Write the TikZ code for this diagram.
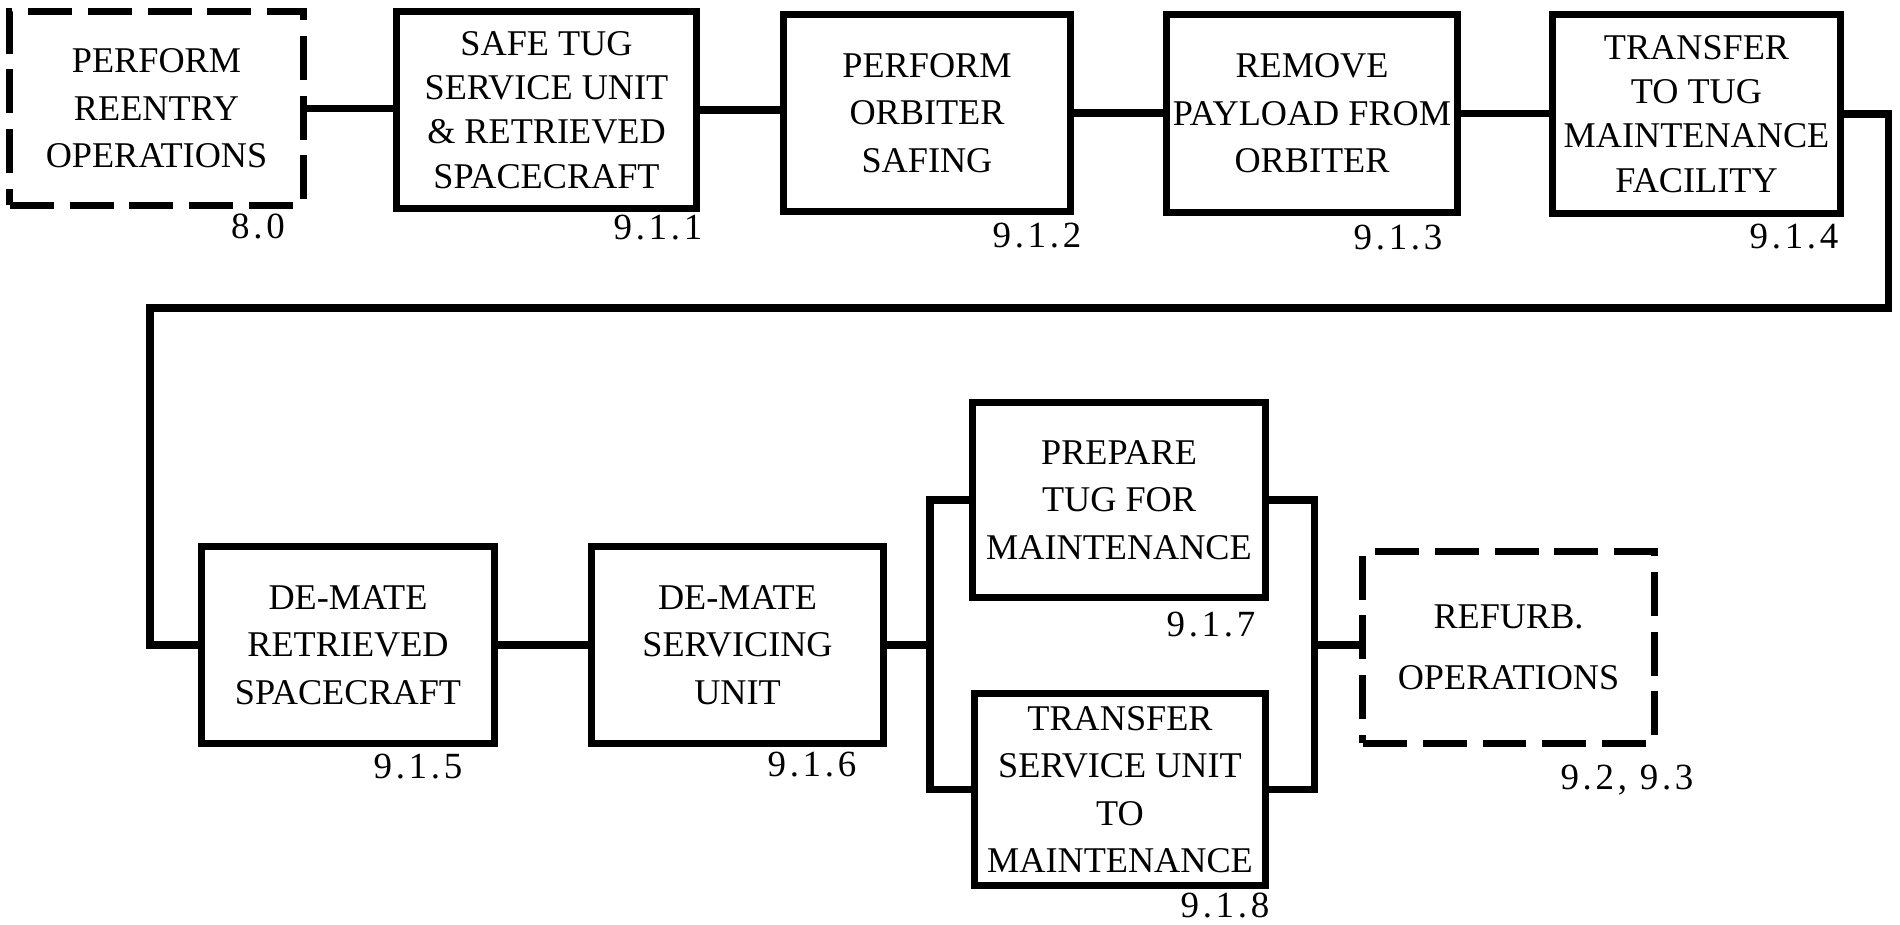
\documentclass[tikz,border=0pt]{standalone}
\usepackage{fontspec}
\setmainfont{Liberation Serif}
\newfontfamily\numfont[LetterSpace=10]{Liberation Serif}

\begin{document}
\begin{tikzpicture}[
  x=0.01cm, y=-0.01cm,
  every node/.style={font=\fontsize{10.3}{13.5}\selectfont},
  task/.style={rectangle, draw=black, line width=2pt, fill=white,
               align=center, inner sep=0pt},
  ext/.style={task, dash pattern=on 12.5pt off 4.5pt},
  size/.style 2 args={minimum width=#1cm, minimum height=#2cm},
  dense/.style={font=\fontsize{10.3}{12.6}\selectfont},
  num/.style={font=\numfont\fontsize{10.5}{12}\selectfont},
  link/.style={line width=2pt}
]
\useasboundingbox (0,0) rectangle (1900,925);

% upper row
\node[ext, size={2.93}{1.93}]         (b80)  at (156.5,108.5) {PERFORM\\REENTRY\\OPERATIONS};
\node[task, dense, size={2.99}{1.96}] (b911) at (546.5,110)   {SAFE TUG\\SERVICE UNIT\\\& RETRIEVED\\SPACECRAFT};
\node[task, size={2.86}{1.96}]        (b912) at (927,113)     {PERFORM\\ORBITER\\SAFING};
\node[task, size={2.90}{1.97}]        (b913) at (1312,113.5)  {REMOVE\\PAYLOAD FROM\\ORBITER};
\node[task, dense, size={2.87}{1.98}] (b914) at (1696.5,114)  {TRANSFER\\TO TUG\\MAINTENANCE\\FACILITY};

% lower row
\node[task, size={2.92}{1.96}] (b915) at (348,645)     {DE-MATE\\RETRIEVED\\SPACECRAFT};
\node[task, size={2.91}{1.96}] (b916) at (737.5,645)   {DE-MATE\\SERVICING\\UNIT};
\node[task, size={2.92}{1.94}] (b917) at (1119,500)    {PREPARE\\TUG FOR\\MAINTENANCE};
\node[task, size={2.90}{1.91}] (b918) at (1120,789.5)  {TRANSFER\\SERVICE UNIT\\TO\\MAINTENANCE};
\node[ext, size={2.91}{1.91}]  (rf)   at (1508.5,647.5) {REFURB.\\[4pt]OPERATIONS};

% numbers
\node[num] (n80)  at (258,226)  {8.0};
\node[num] (n911) at (658,228)  {9.1.1};
\node[num] (n912) at (1037,236) {9.1.2};
\node[num] (n913) at (1398,238) {9.1.3};
\node[num] (n914) at (1794,237) {9.1.4};
\node[num] (n915) at (418,767)  {9.1.5};
\node[num] (n916) at (812,765)  {9.1.6};
\node[num] (n917) at (1211,625) {9.1.7};
\node[num] (n918) at (1225,905) {9.1.8};
\node[num] (nrf)  at (1627,780) {9.2, 9.3};

% connectors
\coordinate (loopR) at (1888,308);
\coordinate (loopL) at (150,308);
\coordinate (jl) at (930,645);
\coordinate (jr) at (1314,645);

\draw[link] (b80.east)  -- (b80.east -| b911.west);
\draw[link] (b911.east) -- (b911.east -| b912.west);
\draw[link] (b912.east) -- (b912.east -| b913.west);
\draw[link] (b913.east) -- (b913.east -| b914.west);
\draw[link] (b914.east) -| (loopR) -- (loopL) |- (b915.west);
\draw[link] (b915.east) -- (b915.east -| b916.west);
\draw[link] (b916.east) -- (jl);
\draw[link] (b917.west) -| (jl) |- (b918.west);
\draw[link] (b917.east) -| (jr) |- (b918.east);
\draw[link] (jr) -- (jr -| rf.west);
\end{tikzpicture}
\end{document}
